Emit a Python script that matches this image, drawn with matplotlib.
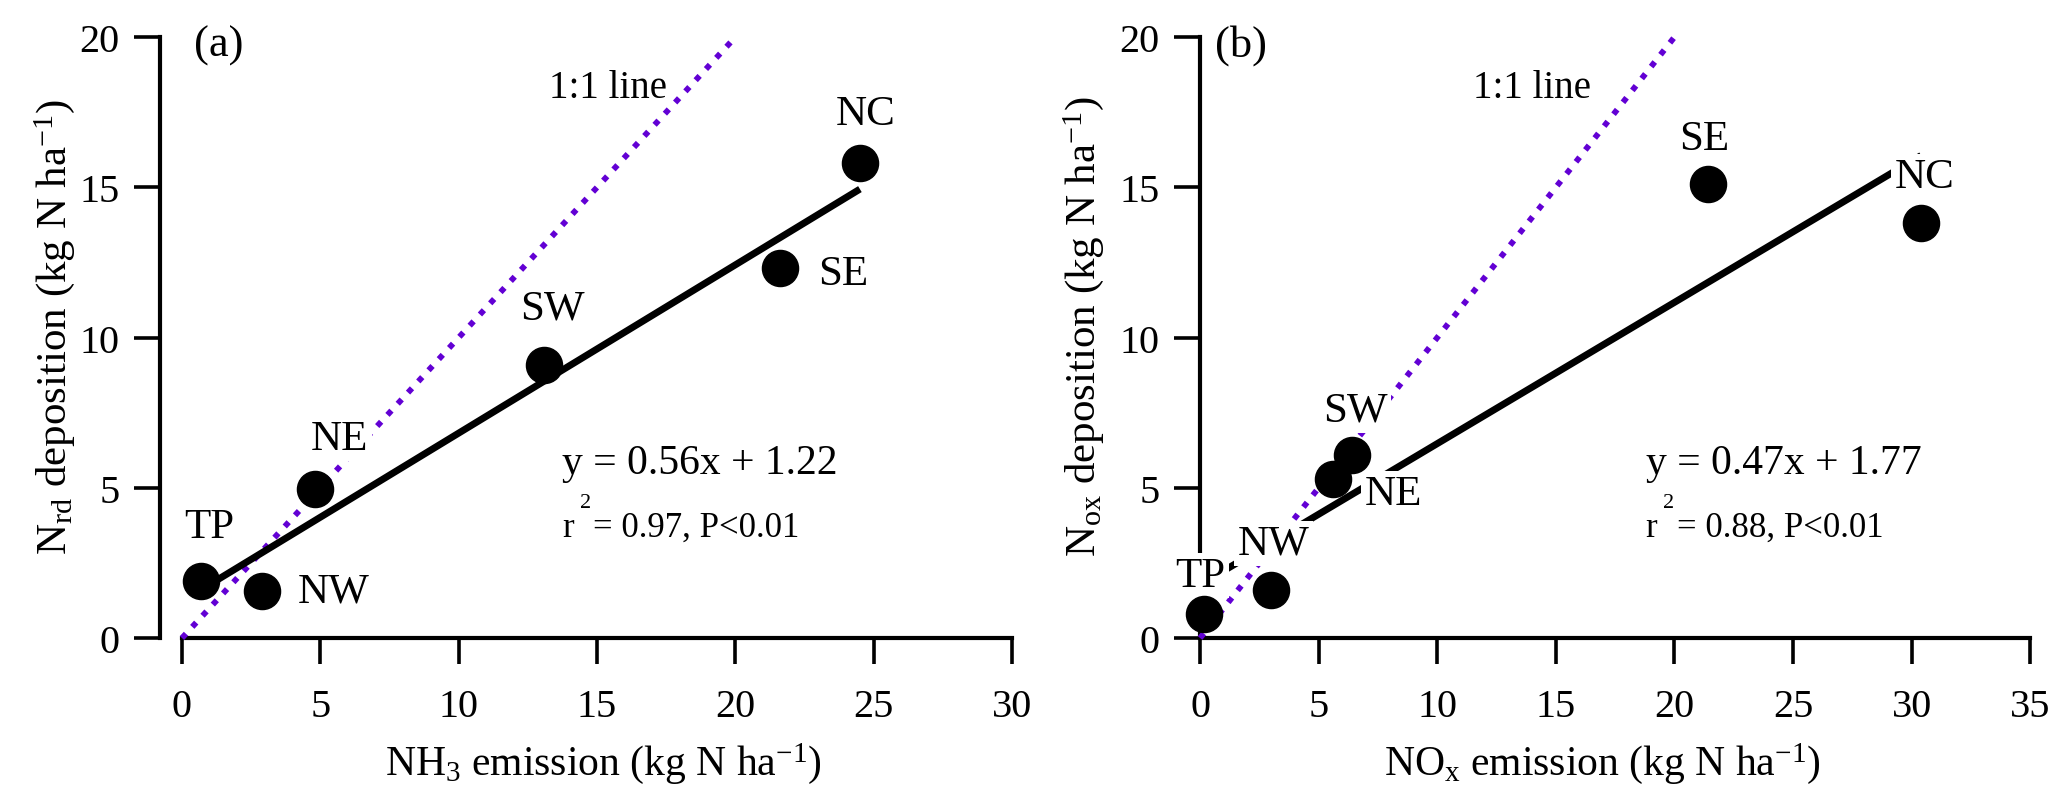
import matplotlib
matplotlib.use('Agg')
import matplotlib.pyplot as plt
import numpy as np

plt.rcParams['font.family'] = ['Liberation Serif', 'DejaVu Serif']
plt.rcParams['mathtext.fontset'] = 'custom'
plt.rcParams['mathtext.rm'] = 'Liberation Serif'
plt.rcParams['mathtext.it'] = 'Liberation Serif:italic'
plt.rcParams['mathtext.bf'] = 'Liberation Serif:bold'

# ---------------- data ----------------
regions = ['TP', 'NW', 'NE', 'SW', 'SE', 'NC']
nh3_emission = [0.7, 2.9, 4.8, 13.1, 21.6, 24.5]
nrd_deposition = [1.9, 1.55, 4.95, 9.1, 12.3, 15.8]
nox_emission = [0.15, 3.0, 5.6, 6.4, 21.4, 30.4]
nox_deposition = [0.8, 1.6, 5.3, 6.1, 15.1, 13.8]
fit_a = (0.56, 1.22)
fit_b = (0.47, 1.77)
r2_a, r2_b = '0.97', '0.88'

# label positions (layout)
lab_pos_a = {'TP': (1.0, 3.36), 'NW': (5.47, 1.23), 'NE': (5.7, 6.29),
             'SW': (13.37, 10.62), 'SE': (23.9, 11.78), 'NC': (24.7, 17.1)}
lab_pos_b = {'TP': (0.0, 1.73), 'NW': (3.1, 2.8), 'NE': (8.15, 4.46),
             'SW': (6.54, 7.23), 'SE': (21.27, 16.27), 'NC': (30.55, 15.0)}

PURPLE = '#6200d4'

fig = plt.figure(figsize=(20.67, 8.03), dpi=100)
axa = fig.add_axes([0.08805, 0.2042, 0.4016, 0.7484])
axb = fig.add_axes([0.5806, 0.2042, 0.4016, 0.7484])


def style(ax, xmax, offset):
    ax.set_xlim(0, xmax)
    ax.set_ylim(0, 20)
    for s in ['top', 'right']:
        ax.spines[s].set_visible(False)
    ax.spines['left'].set_position(('outward', offset))
    for s in ['left', 'bottom']:
        ax.spines[s].set_linewidth(3.0)
        ax.spines[s].set_zorder(2.5)
    ax.set_xticks(np.arange(0, xmax + 0.1, 5))
    ax.set_yticks(np.arange(0, 20.1, 5))
    ax.tick_params(direction='out', length=19, width=2.6, labelsize=29)
    ax.tick_params(axis='x', pad=17)
    ax.tick_params(axis='y', pad=10)


def panel(ax, x, y, fit, r2, lab_pos, xmax, offset, tag, tagx, onex,
          eqx, xlabel, ylabel, xlab_x, ylab_x):
    style(ax, xmax, offset)
    ppu = 830 / xmax  # pixels per x unit
    # 1:1 line
    ax.plot([0, 20], [0, 20], color=PURPLE, lw=4.2, dashes=(1, 1.6),
            solid_capstyle='butt', dash_capstyle='butt', zorder=3, clip_on=False)
    # regression
    xs = np.array([min(x), max(x)])
    ax.plot(xs, fit[0] * xs + fit[1], color='black', lw=5, zorder=4,
            solid_capstyle='butt')
    # points
    ax.plot(x, y, 'o', color='black', ms=26, zorder=8, clip_on=False)
    # labels
    for r in regions:
        lx, ly = lab_pos[r]
        ax.text(lx, ly, r, fontsize=31, ha='center', va='baseline', zorder=6,
                bbox=dict(fc='white', ec='none', pad=2.5))
    ax.text(onex, 18.0, '1:1 line', fontsize=28, ha='center', va='baseline', zorder=6)
    ax.text(tagx, 19.37, tag, fontsize=32, ha='left', va='baseline', zorder=6)
    # equation
    ax.text(eqx, 5.49, 'y = %.2fx + %.2f' % fit, fontsize=30, ha='left',
            va='baseline', zorder=6)
    ax.text(eqx, 3.40, 'r', fontsize=25, ha='left', va='baseline', zorder=6)
    ax.text(eqx + 23 / ppu, 4.36, '2', fontsize=16, ha='center',
            va='baseline', zorder=6)
    ax.text(eqx + 31 / ppu, 3.40, '= %s, P<0.01' % r2, fontsize=25,
            ha='left', va='baseline', zorder=6)
    ax.set_xlabel(xlabel, fontsize=30, va='baseline')
    ax.xaxis.set_label_coords(xlab_x, -0.226)
    ax.set_ylabel(ylabel, fontsize=31, va='center')
    ax.yaxis.set_label_coords(ylab_x, 0.52)


panel(axa, nh3_emission, nrd_deposition, fit_a, r2_a, lab_pos_a, 30, 15.8,
      '(a)', 0.43, 15.4, 13.75,
      r'NH$_3$ emission (kg N ha$^{-1}$)',
      r'N$_\mathrm{rd}$ deposition (kg N ha$^{-1}$)', 0.507, -0.153)
panel(axb, nox_emission, nox_deposition, fit_b, r2_b, lab_pos_b, 35, 0,
      '(b)', 0.63, 14.0, 18.78,
      r'NO$_\mathrm{x}$ emission (kg N ha$^{-1}$)',
      r'N$_\mathrm{ox}$ deposition (kg N ha$^{-1}$)', 0.484, -0.141)

fig.savefig('out.png', dpi=100)
